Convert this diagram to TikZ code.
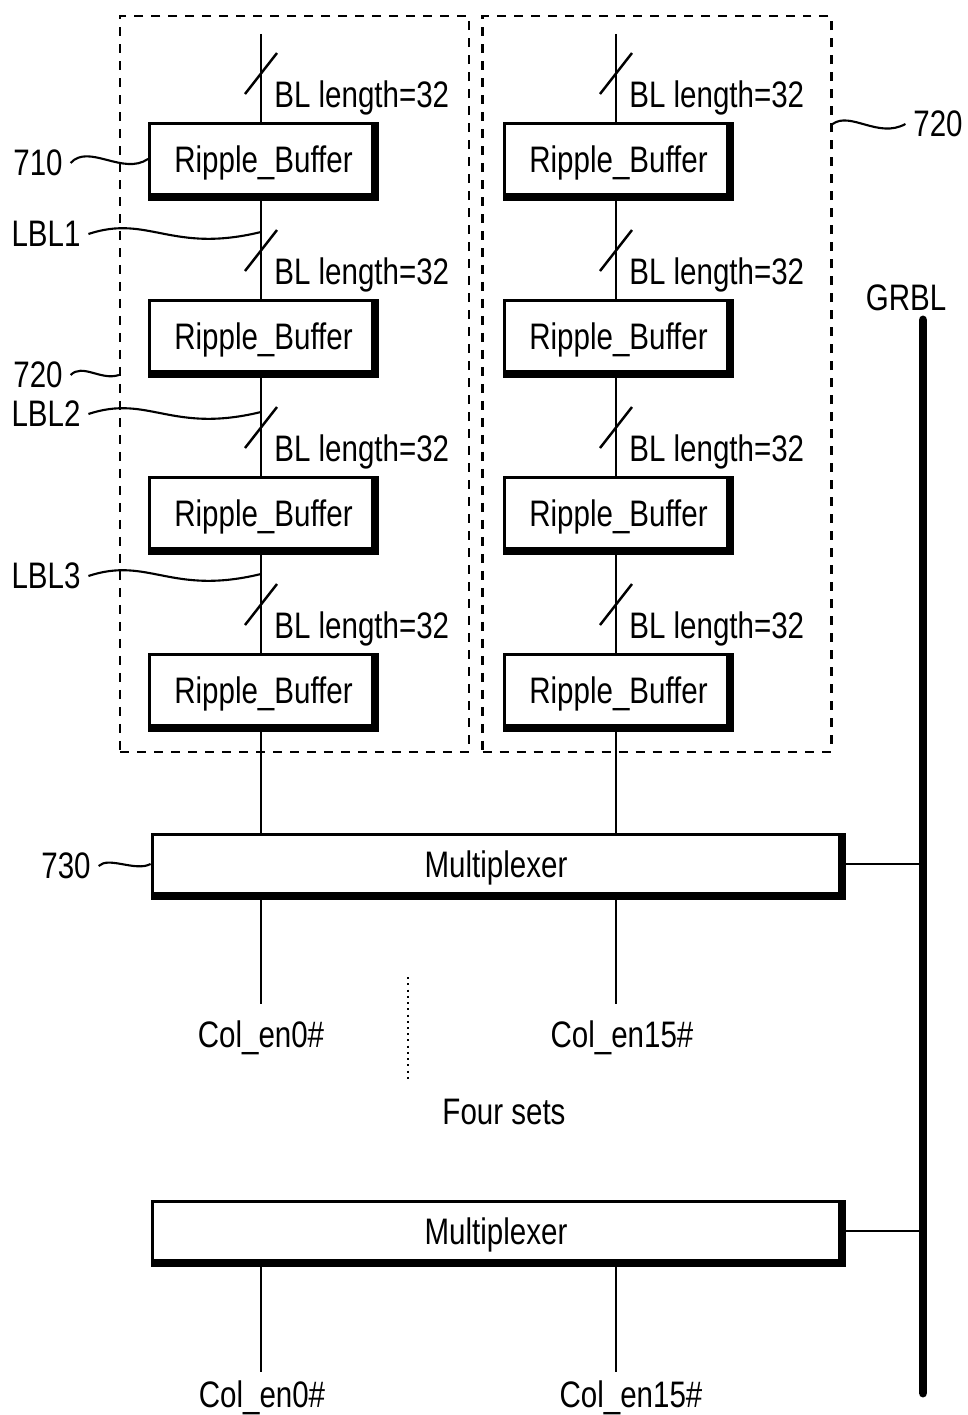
\documentclass[tikz,border=0pt]{standalone}
\usepackage{fontspec}
\setmainfont[FakeStretch=0.8]{Liberation Sans}
\usetikzlibrary{arrows}
\usetikzlibrary{positioning}

\begin{document}
\begin{tikzpicture}[x=0.02cm, y=-0.02cm,
    font=\fontsize{21}{24}\selectfont,
    buffer/.style={rectangle, draw, line width=1.7pt, fill=white, minimum width=4.46cm, minimum height=1.42cm, text depth=0pt, inner sep=0},
    mux/.style={buffer, minimum width=13.76cm, minimum height=1.18cm},
    group/.style={rectangle, draw, line width=1.3pt, dash pattern=on 0.18cm off 0.16cm, minimum width=6.98cm, minimum height=14.72cm},
    tag/.style={inner sep=0, outer sep=0.16cm},
    wire/.style={line width=1.2pt},
    bus/.style={line width=5.1pt, line cap=round}]
    \useasboundingbox (0,0) rectangle (967,1415);

    \draw (294.5,384) node[group] (g1) {};
    \draw (657,384) node[group] (g2) {};

    \draw (496,864) node[mux] (m1) {Multiplexer};
    \draw (496,1231) node[mux] (m2) {Multiplexer};

    \coordinate (gtop) at (923,320);
    \coordinate (gbot) at (923,1393);
    \draw (906,298) node[inner sep=0] (grbl) {GRBL};
    \draw[bus] (gtop) -- (gbot);

    \foreach \col/\x in {1/261, 2/616}{
        \coordinate (top\col) at (\x,34);
        \foreach \i in {1,2,3,4}{
            \draw (\x, 159 + 177*\i - 177) node[buffer] (b\col\i) {\hspace{0.1cm}Ripple\_Buffer};
            \draw[wire, line width=1.4pt] ([shift={(-16,-28)}]b\col\i.north) -- ([shift={(16,-69)}]b\col\i.north);
            \draw ([shift={(13,-15)}]b\col\i.north) node[anchor=base west, inner sep=0] (w\col\i) {BL length=32};
        }
        \draw[wire] (top\col) -- (b\col1);
        \draw[wire] (b\col1) -- (b\col2);
        \draw[wire] (b\col2) -- (b\col3);
        \draw[wire] (b\col3) -- (b\col4);
        \draw[wire] (b\col4) -- (b\col4 |- m1.north);
        \coordinate (c\col) at (\x,1004);
        \coordinate (d\col) at (\x,1372);
        \draw[wire] (m1.south -| top\col) -- (c\col);
        \draw[wire] (m2.south -| top\col) -- (d\col);
    }

    \foreach \n in {b11,b12,b13,b14,b21,b22,b23,b24,m1,m2}{
        \fill (\n.south west) rectangle ([shift={(5,5)}]\n.south east);
        \fill (\n.north east) rectangle ([shift={(5,5)}]\n.south east);
    }

    \draw[wire] (m1.east) -- (m1.east -| gtop);
    \draw[wire] (m2.east) -- (m2.east -| gtop);

    \draw (261,1047) node[anchor=base, inner sep=0] (e1) {Col\_en0\#};
    \draw (622,1047) node[anchor=base, inner sep=0] (e2) {Col\_en15\#};
    \draw (262,1407) node[anchor=base, inner sep=0] (f1) {Col\_en0\#};
    \draw (631,1407) node[anchor=base, inner sep=0] (f2) {Col\_en15\#};

    \draw[line width=1.5pt, dash pattern=on 0.04cm off 0.085cm] (408,977) -- (408,1080);
    \draw (504,1112) node[inner sep=0] (four) {Four sets};

    \draw (38,163) node[tag] (l710) {710};
    \draw[wire] (l710.east) .. controls +(18,-20) and +(-25,17) .. (b11.west);

    \draw (38,375) node[tag] (l720a) {720};
    \draw[wire] (l720a.east) .. controls +(12,-12) and +(-18,6) .. (l720a -| g1.west);

    \draw (938,124) node[tag] (l720b) {720};
    \draw[wire] (l720b -| g2.east) .. controls +(18,-13) and +(-27,15) .. (l720b.west);

    \draw (66,866) node[tag] (l730) {730};
    \draw[wire] (l730.east) .. controls +(10,-10) and +(-15,8) .. (m1.west);

    \foreach \k/\y in {1/232, 2/412, 3/574}{
        \coordinate (p\k) at (261,\y);
        \draw (46,\y + 2) node[tag] (lbl\k) {LBL\k};
        \draw[wire] (lbl\k.east) .. controls +(60,-20) and +(-90,22) .. (p\k);
    }
\end{tikzpicture}
\end{document}
